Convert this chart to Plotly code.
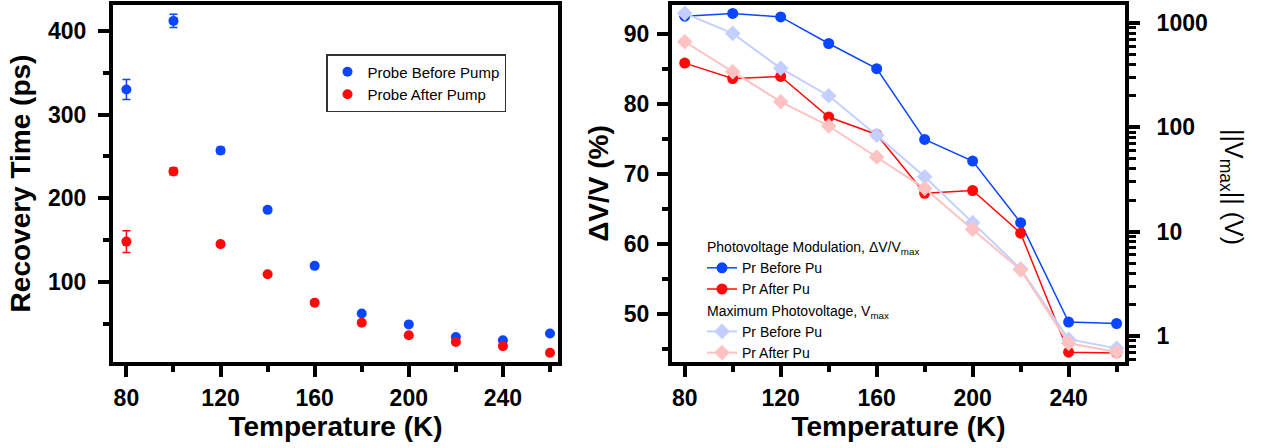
import plotly.graph_objects as go

# ---- data ----
temps = [80, 100, 120, 140, 160, 180, 200, 220, 240, 260]

rec_before = [330, 412, 257, 186, 119, 62, 49, 34, 30, 38]
rec_before_err = [12, 8, 4, 2, 2, 1, 1, 1, 1, 1]
rec_after = [148, 232, 145, 109, 75, 51, 36, 28, 23, 15]
rec_after_err = [13, 4, 2, 1, 1, 1, 1, 1, 1, 1]

dv_before = [92.5, 92.9, 92.4, 88.6, 85.0, 74.9, 71.8, 63.0, 48.8, 48.6]
dv_after = [85.8, 83.6, 83.9, 78.1, 75.6, 67.2, 67.6, 61.5, 44.5, 44.4]
vmax_before = [1240, 796, 368, 201, 84, 33.6, 12.2, 4.4, 0.93, 0.76]
vmax_after = [662, 341, 176, 103, 52, 26, 10.5, 4.3, 0.85, 0.70]

x_major = [80, 120, 160, 200, 240]
x_minor = [100, 140, 180, 220, 260]
y_left_major = [100, 200, 300, 400]
y_left_minor = [50, 150, 250, 350]
y_dv_major = [50, 60, 70, 80, 90]
y_dv_minor = [45, 55, 65, 75, 85]
y_log_major = [1, 10, 100, 1000]

BLUE = "#0a46ff"
RED = "#ff0a0a"
LBLUE = "#c3d0ff"
LRED = "#ffc2c2"
FONT = "Liberation Sans"

fig = go.Figure()

# left panel
fig.add_trace(go.Scatter(x=temps, y=rec_before, mode="markers", name="Probe Before Pump",
                         marker=dict(color=BLUE, size=10),
                         error_y=dict(type="data", array=rec_before_err, color=BLUE, thickness=1.5, width=4),
                         xaxis="x", yaxis="y", legend="legend"))
fig.add_trace(go.Scatter(x=temps, y=rec_after, mode="markers", name="Probe After Pump",
                         marker=dict(color=RED, size=10),
                         error_y=dict(type="data", array=rec_after_err, color=RED, thickness=1.5, width=4),
                         xaxis="x", yaxis="y", legend="legend"))

# right panel
g1 = "Photovoltage Modulation, ΔV/V<sub>max</sub>"
g2 = "Maximum Photovoltage, V<sub>max</sub>"
fig.add_trace(go.Scatter(x=temps, y=vmax_before, mode="lines+markers", name="Pr Before Pu",
                         line=dict(color=LBLUE, width=2), marker=dict(color=LBLUE, size=12, symbol="diamond"),
                         xaxis="x2", yaxis="y3", legend="legend2", legendgroup="g2", legendgrouptitle_text=g2,
                         legendrank=3))
fig.add_trace(go.Scatter(x=temps, y=vmax_after, mode="lines+markers", name="Pr After Pu",
                         line=dict(color=LRED, width=2), marker=dict(color=LRED, size=12, symbol="diamond"),
                         xaxis="x2", yaxis="y3", legend="legend2", legendgroup="g2", legendgrouptitle_text=g2,
                         legendrank=4))
fig.add_trace(go.Scatter(x=temps, y=dv_before, mode="lines+markers", name="Pr Before Pu",
                         line=dict(color=BLUE, width=1.5), marker=dict(color=BLUE, size=11),
                         xaxis="x2", yaxis="y2", legend="legend2", legendgroup="g1", legendgrouptitle_text=g1,
                         legendrank=1))
fig.add_trace(go.Scatter(x=temps, y=dv_after, mode="lines+markers", name="Pr After Pu",
                         line=dict(color=RED, width=1.5), marker=dict(color=RED, size=11),
                         xaxis="x2", yaxis="y2", legend="legend2", legendgroup="g1", legendgrouptitle_text=g1,
                         legendrank=2))

W = 1261
tickfont = dict(family=FONT, size=23, color="black", weight="bold")
titlefont = dict(family=FONT, size=28, color="black", weight="bold")

axcommon = dict(showline=True, linewidth=4, linecolor="black", ticks="outside", ticklen=11,
                tickwidth=4, tickcolor="black", showgrid=False, zeroline=False, tickfont=tickfont)


def minor(vals, ln=6, w=4):
    return dict(tickmode="array", tickvals=vals, ticks="outside", ticklen=ln, tickwidth=w,
                tickcolor="black", showgrid=False)


fig.update_layout(
    width=1261, height=448,
    margin=dict(l=0, r=0, t=5, b=86),
    paper_bgcolor="white", plot_bgcolor="white",
    font=dict(family=FONT, color="black"),
    xaxis=dict(domain=[113 / W, 558 / W], range=[74.3, 263.4], tickmode="array",
               tickvals=x_major, minor=minor(x_minor), mirror=True, ticklabelstandoff=1,
               title=dict(text="Temperature (K)", font=titlefont, standoff=0), anchor="y", **axcommon),
    yaxis=dict(range=[4, 431], tickmode="array", tickvals=y_left_major, mirror=True,
               minor=minor(y_left_minor), ticklabelstandoff=7,
               title=dict(text="Recovery Time (ps)", font=titlefont, standoff=10), anchor="x", **axcommon),
    xaxis2=dict(domain=[672 / W, 1125 / W], range=[74.7, 263.5], tickmode="array",
                tickvals=x_major, minor=minor(x_minor), mirror=True, ticklabelstandoff=1,
                title=dict(text="Temperature (K)", font=titlefont, standoff=0), anchor="y2", **axcommon),
    yaxis2=dict(range=[43.1, 94.1], tickmode="array", tickvals=y_dv_major, anchor="x2",
                minor=minor(y_dv_minor), ticklabelstandoff=3,
                title=dict(text="ΔV/V (%)", font=titlefont, standoff=8), **axcommon),
    yaxis3=dict(type="log", range=[-0.25, 3.173], overlaying="y2", side="right", anchor="x2",
                tickmode="array", tickvals=y_log_major, ticklabelstandoff=12,
                minor=minor([m * 10 ** d for d in range(-1, 4) for m in range(2, 10)], ln=7, w=3),
                **axcommon),
    legend=dict(x=326 / W, y=1 - (54 - 5) / 357, xanchor="left", yanchor="top",
                bordercolor="#333", borderwidth=1.5, bgcolor="white",
                font=dict(family=FONT, size=15, color="black"), itemwidth=30),
    legend2=dict(x=702 / W, y=1 - (231 - 5) / 357, xanchor="left", yanchor="top",
                 bgcolor="rgba(255,255,255,0)", borderwidth=0, tracegroupgap=0,
                 traceorder="grouped", itemwidth=30,
                 grouptitlefont=dict(family=FONT, size=14, color="black"),
                 font=dict(family=FONT, size=14, color="black")),
    showlegend=True,
    annotations=[dict(text="||V<sub>max</sub>|| (V)", textangle=90, x=1232 / W, y=0.49,
                      xref="paper", yref="paper", xanchor="center", yanchor="middle", showarrow=False,
                      font=dict(family=FONT, size=25, color="black"))],
)

fig.write_html("out.html")
